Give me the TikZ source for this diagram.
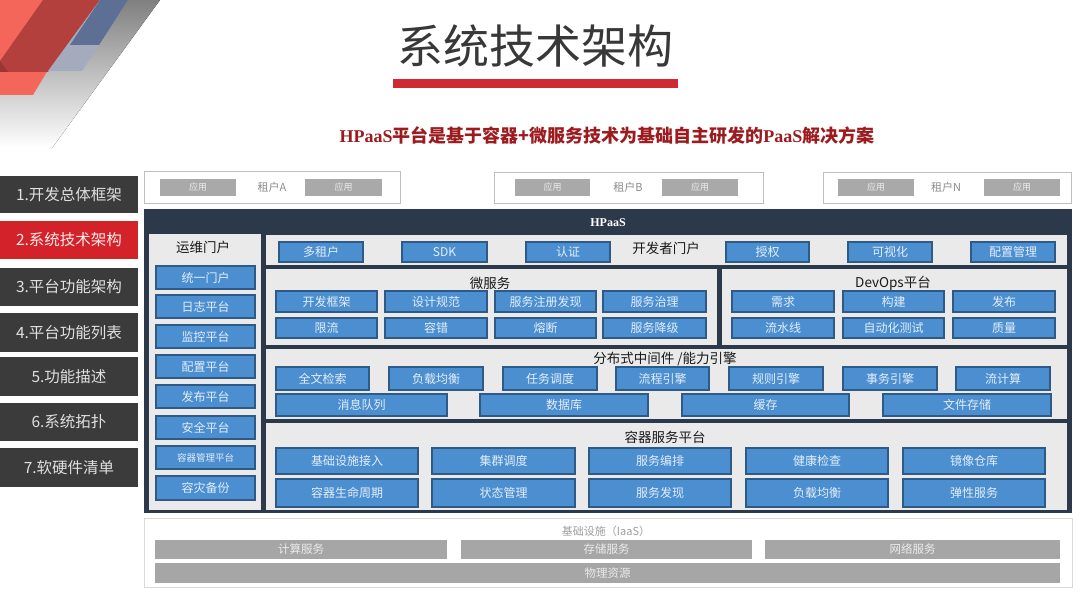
\documentclass[tikz,border=0pt]{standalone}
\usepackage{fontspec}
\setmainfont{Noto Sans CJK SC}
\newfontfamily\serifb{Liberation Serif}
\definecolor{menugray}{HTML}{3B3B3B}
\definecolor{menured}{HTML}{D3222A}
\definecolor{navy}{HTML}{2C394B}
\definecolor{panelgray}{HTML}{EAEAEA}
\definecolor{btnblue}{HTML}{4C8FD1}
\definecolor{btnedge}{HTML}{2F5A86}
\definecolor{btntext}{HTML}{E4EEF8}
\definecolor{appgray}{HTML}{A9A9A9}
\definecolor{iaasgray}{HTML}{A6A6A6}
\definecolor{titlered}{HTML}{CF2A34}
\definecolor{subred}{HTML}{9B1B1E}
\definecolor{lightred}{HTML}{F4665A}
\definecolor{darkred}{HTML}{B3403D}
\definecolor{blueA}{HTML}{5D6F94}
\definecolor{blueB}{HTML}{A3ABBD}
\definecolor{shade}{HTML}{F3F3F3}
\newcommand\rbox[7]{\node[#7, minimum width={#4-#2}, minimum height={#5-#3}] (#1) at ({(#2+#4)/2},{(#3+#5)/2}) {#6};}
\newcommand\fs[1]{\fontsize{#1}{#1}\selectfont}
\tikzset{
  base/.style={inner sep=1pt, outer sep=0pt},
  menu/.style={base, fill=menugray, text=white!88!black, font=\fs{15.5}},
  menusel/.style={base, fill=menured, text=white!92!red, font=\fs{15.5}},
  tenant/.style={base, draw=black!25, line width=0.8pt, fill=white},
  app/.style={base, fill=appgray, text=white!92!black, font=\fs{9}},
  tlabel/.style={inner sep=0pt, text=black!45, font=\fs{11}},
  frame/.style={base, fill=navy},
  panel/.style={base, fill=panelgray},
  btn/.style={base, fill=btnblue, draw=btnedge, line width=1.3pt, text=btntext, font=\fs{12}},
  sbtn/.style={btn, font=\fs{9.5}},
  sec/.style={inner sep=0pt, text=black!90, font=\fs{13.5}},
  iaas/.style={base, fill=white, draw=black!15, line width=0.8pt},
  gbtn/.style={base, fill=iaasgray, text=white!92!black, font=\fs{11.5}},
}
\begin{document}
\begin{tikzpicture}[x=1pt,y=-1pt]
\useasboundingbox (0,0) rectangle (1080,607);
\fill[white] (0,0) rectangle (1080,607);
% corner decoration
\fill[shade] (128,0) -- (160,0) -- (52,148) -- (0,148) -- (0,95) -- cycle;
\fill[lightred] (0,0) -- (90,0) -- (33,95) -- (0,95) -- cycle;
\fill[darkred] (43,0) -- (100,0) -- (48,72) -- (0,72) -- (0,61) -- cycle;
\fill[darkred!85!black] (0,61) -- (8,72) -- (0,72) -- cycle;
\fill[blueB] (100,0) -- (128,0) -- (82,71) -- (48,71) -- cycle;
\fill[blueA] (100,0) -- (128,0) -- (99,45) -- (70,45) -- cycle;
% title
\node[inner sep=0pt, text=black!78, font=\fs{46}] (title) at (535,46) {系统技术架构};
\node[fill=titlered, inner sep=0pt, minimum width=285, minimum height=9] (bar) at (535.5,83.5) {};
\node[inner sep=0pt, text=subred, font=\fs{18}\bfseries] (sub) at (607,136) {{\serifb\bfseries HPaaS}平台是基于容器+微服务技术为基础自主研发的{\serifb\bfseries PaaS}解决方案};
% left menu
\rbox{m1}{0}{176}{138}{213}{1.开发总体框架}{menu}
\rbox{m2}{0}{221}{138}{259}{2.系统技术架构}{menusel}
\rbox{m3}{0}{268}{138}{306}{3.平台功能架构}{menu}
\rbox{m4}{0}{313}{138}{352}{4.平台功能列表}{menu}
\rbox{m5}{0}{357}{138}{396}{5.功能描述}{menu}
\rbox{m6}{0}{403}{138}{441}{6.系统拓扑}{menu}
\rbox{m7}{0}{448}{138}{487}{7.软硬件清单}{menu}
% tenants
\rbox{ta}{144}{171}{400}{203}{}{tenant}
\rbox{ta1}{160}{179}{236}{196}{应用}{app}
\node[tlabel] (tal) at (272,187) {租户A};
\rbox{ta2}{305}{179}{382}{196}{应用}{app}
\rbox{tb}{494}{172}{763}{203}{}{tenant}
\rbox{tb1}{515}{179}{590}{196}{应用}{app}
\node[tlabel] (tbl) at (628,187) {租户B};
\rbox{tb2}{662}{179}{738}{196}{应用}{app}
\rbox{tn}{823}{172}{1071}{203}{}{tenant}
\rbox{tn1}{838}{179}{914}{196}{应用}{app}
\node[tlabel] (tnl) at (946,187) {租户N};
\rbox{tn2}{984}{179}{1060}{196}{应用}{app}
% HPaaS frame
\rbox{hp}{144}{209}{1072}{513}{}{frame}
\node[inner sep=0pt, text=white, font=\serifb\bfseries\fs{12}] (hpl) at (608,223) {HPaaS};
\rbox{pops}{149}{234}{261}{510}{}{panel}
\rbox{pdev}{266}{235}{1067}{265}{}{panel}
\rbox{pms}{266}{269}{717}{345}{}{panel}
\rbox{pdo}{722}{269}{1067}{345}{}{panel}
\rbox{pmid}{266}{349}{1067}{419}{}{panel}
\rbox{pctr}{266}{423}{1067}{510}{}{panel}
% section labels
\node[sec] (lops) at (203,247) {运维门户};
\node[sec] (ldev) at (666,248) {开发者门户};
\node[sec] (lms) at (490,283) {微服务};
\node[sec] (ldo) at (893,283) {DevOps平台};
\node[sec] (lmid) at (665,359) {分布式中间件 /能力引擎};
\node[sec] (lctr) at (665,437) {容器服务平台};
% ops buttons
\rbox{o1}{156}{266}{255}{289}{统一门户}{btn}
\rbox{o2}{156}{295}{255}{318}{日志平台}{btn}
\rbox{o3}{156}{325}{255}{348}{监控平台}{btn}
\rbox{o4}{156}{355}{255}{378}{配置平台}{btn}
\rbox{o5}{156}{385}{255}{408}{发布平台}{btn}
\rbox{o6}{156}{416}{255}{439}{安全平台}{btn}
\rbox{o7}{156}{446}{255}{469}{容器管理平台}{sbtn}
\rbox{o8}{156}{476}{255}{500}{容灾备份}{btn}
% developer portal
\rbox{d1}{279}{242}{363}{262}{多租户}{btn}
\rbox{d2}{402}{242}{487}{262}{SDK}{btn}
\rbox{d3}{526}{242}{610}{262}{认证}{btn}
\rbox{d4}{726}{242}{809}{262}{授权}{btn}
\rbox{d5}{848}{242}{932}{262}{可视化}{btn}
\rbox{d6}{971}{242}{1055}{262}{配置管理}{btn}
% micro services
\rbox{s1}{276}{291}{377}{312}{开发框架}{btn}
\rbox{s2}{385}{291}{487}{312}{设计规范}{btn}
\rbox{s3}{495}{291}{596}{312}{服务注册发现}{btn}
\rbox{s4}{603}{291}{706}{312}{服务治理}{btn}
\rbox{s5}{276}{318}{377}{338}{限流}{btn}
\rbox{s6}{385}{318}{487}{338}{容错}{btn}
\rbox{s7}{495}{318}{596}{338}{熔断}{btn}
\rbox{s8}{603}{318}{706}{338}{服务降级}{btn}
% devops
\rbox{v1}{732}{291}{834}{312}{需求}{btn}
\rbox{v2}{843}{291}{944}{312}{构建}{btn}
\rbox{v3}{953}{291}{1055}{312}{发布}{btn}
\rbox{v4}{732}{318}{834}{338}{流水线}{btn}
\rbox{v5}{843}{318}{944}{338}{自动化测试}{btn}
\rbox{v6}{953}{318}{1055}{338}{质量}{btn}
% middleware
\rbox{e1}{276}{367}{369}{390}{全文检索}{btn}
\rbox{e2}{389}{367}{483}{390}{负载均衡}{btn}
\rbox{e3}{503}{367}{597}{390}{任务调度}{btn}
\rbox{e4}{616}{367}{709}{390}{流程引擎}{btn}
\rbox{e5}{729}{367}{823}{390}{规则引擎}{btn}
\rbox{e6}{843}{367}{937}{390}{事务引擎}{btn}
\rbox{e7}{956}{367}{1050}{390}{流计算}{btn}
\rbox{f1}{276}{394}{447}{416}{消息队列}{btn}
\rbox{f2}{480}{394}{648}{416}{数据库}{btn}
\rbox{f3}{682}{394}{849}{416}{缓存}{btn}
\rbox{f4}{883}{394}{1051}{416}{文件存储}{btn}
% container platform
\rbox{c1}{276}{448}{418}{474}{基础设施接入}{btn}
\rbox{c2}{432}{448}{575}{474}{集群调度}{btn}
\rbox{c3}{589}{448}{731}{474}{服务编排}{btn}
\rbox{c4}{746}{448}{888}{474}{健康检查}{btn}
\rbox{c5}{903}{448}{1045}{474}{镜像仓库}{btn}
\rbox{c6}{276}{479}{418}{507}{容器生命周期}{btn}
\rbox{c7}{432}{479}{575}{507}{状态管理}{btn}
\rbox{c8}{589}{479}{731}{507}{服务发现}{btn}
\rbox{c9}{746}{479}{888}{507}{负载均衡}{btn}
\rbox{c10}{903}{479}{1045}{507}{弹性服务}{btn}
% IaaS
\rbox{ia}{144}{518}{1072}{587}{}{iaas}
\node[inner sep=0pt, text=black!38, font=\fs{11}] (ial) at (606,531) {基础设施（IaaS）};
\rbox{i1}{155}{540}{447}{559}{计算服务}{gbtn}
\rbox{i2}{461}{540}{752}{559}{存储服务}{gbtn}
\rbox{i3}{765}{540}{1060}{559}{网络服务}{gbtn}
\rbox{i4}{155}{563}{1060}{583}{物理资源}{gbtn}
\end{tikzpicture}
\end{document}
